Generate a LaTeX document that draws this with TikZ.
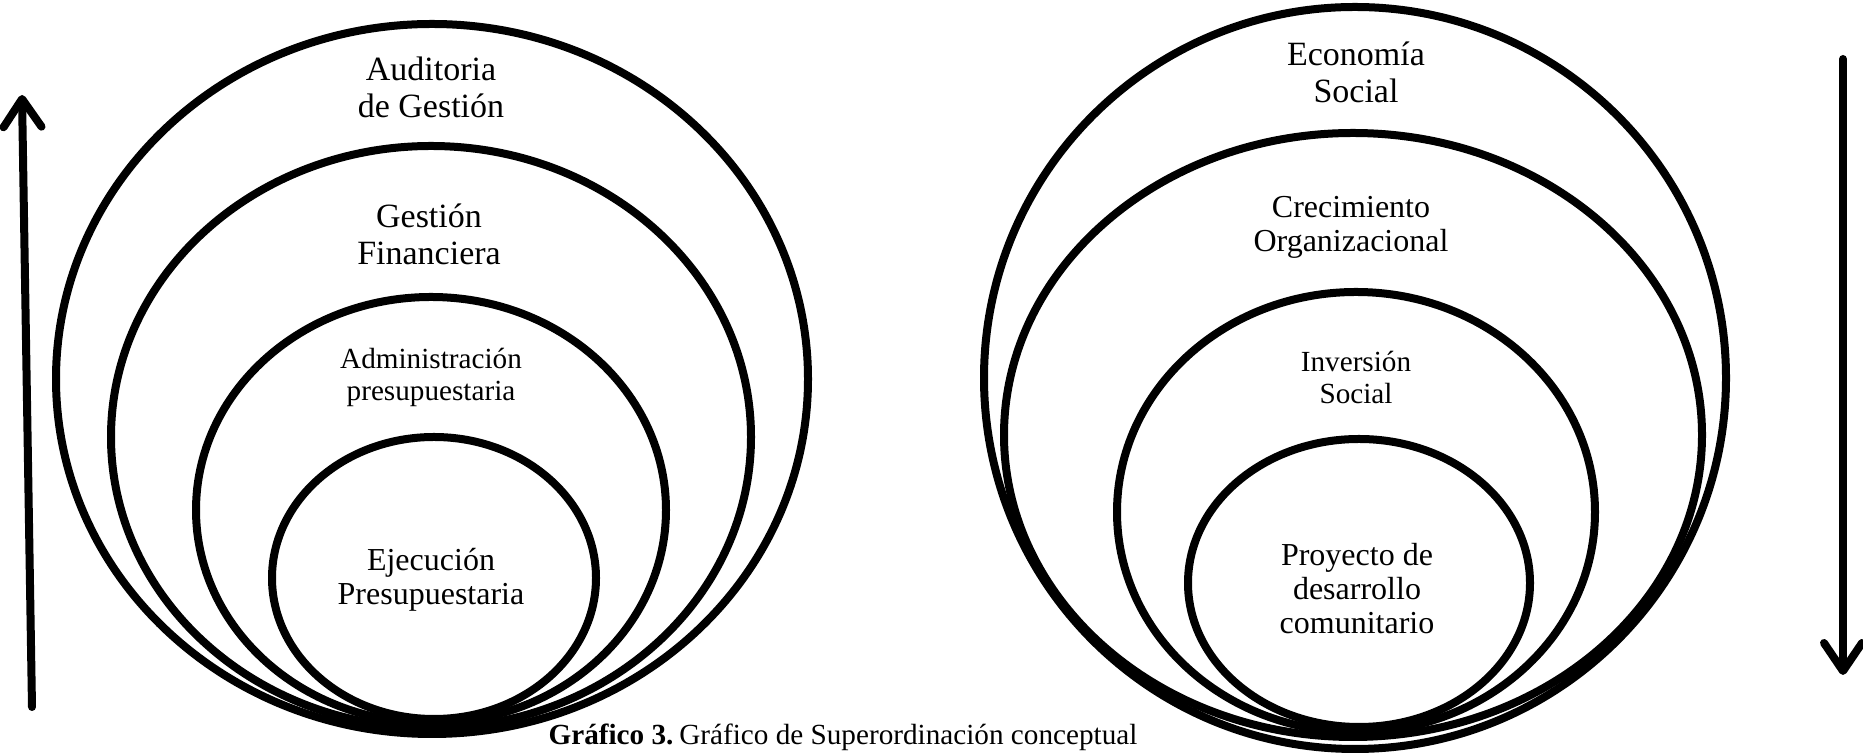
\documentclass[tikz,border=0pt]{standalone}
\usepackage{fontspec}
\setmainfont{Liberation Serif}
\usetikzlibrary{arrows.meta}
\begin{document}
\begin{tikzpicture}[x=0.5pt,y=0.5pt,
  ring/.style={line width=4pt},
  lbl/.style={align=center, inner sep=0pt},
  big/.style={lbl, font=\fontsize{17}{18.5}\selectfont},
  mid/.style={lbl, font=\fontsize{16}{17}\selectfont},
  sml/.style={lbl, font=\fontsize{14.6}{16}\selectfont},
  vec/.style={line width=4pt, line cap=round, -{Straight Barb[length=14pt,width=19pt,line cap=round,line join=round]}}]
\useasboundingbox (0,0) rectangle (1863,753);
% left group
\draw[ring] (432,374) ellipse [x radius=376, y radius=355];
\draw[ring] (431,316) ellipse [x radius=320, y radius=291];
\draw[ring] (431,243) ellipse [x radius=235, y radius=213];
\draw[ring] (434,175) ellipse [x radius=162, y radius=141];
% right group
\draw[ring] (1355,375) ellipse [x radius=371, y radius=371];
\draw[ring] (1353,318) ellipse [x radius=349, y radius=302];
\draw[ring] (1356,241) ellipse [x radius=239, y radius=220];
\draw[ring] (1359,170) ellipse [x radius=171, y radius=144];
% labels
\node[big] (aud) at (431,666) {Auditoria\\de Gestión};
\node[big] (gf) at (429,519) {Gestión\\Financiera};
\node[sml] (adm) at (431,376) {Administración\\presupuestaria};
\node[mid] (eje) at (431,173) {Ejecución\\Presupuestaria};
\node[big] (eco) at (1356,681) {Economía\\Social};
\node[mid] (cre) at (1351,526) {Crecimiento\\Organizacional};
\node[sml] (inv) at (1356,375) {Inversión\\Social};
\node[mid] (pro) at (1357,164) {Proyecto de\\desarrollo\\comunitario};
\node[lbl, font=\fontsize{14.6}{16}\selectfont] (cap) at (843,16) {\textbf{Gráfico 3.}\hspace{0.2em}Gráfico de Superordinación conceptual};
% arrows
\coordinate (la) at (32,46);
\coordinate (lb) at (22,658);
\coordinate (ra) at (1843,694);
\coordinate (rb) at (1843,78);
\draw[vec] (la) -- (lb);
\draw[vec] (ra) -- (rb);
\end{tikzpicture}
\end{document}
